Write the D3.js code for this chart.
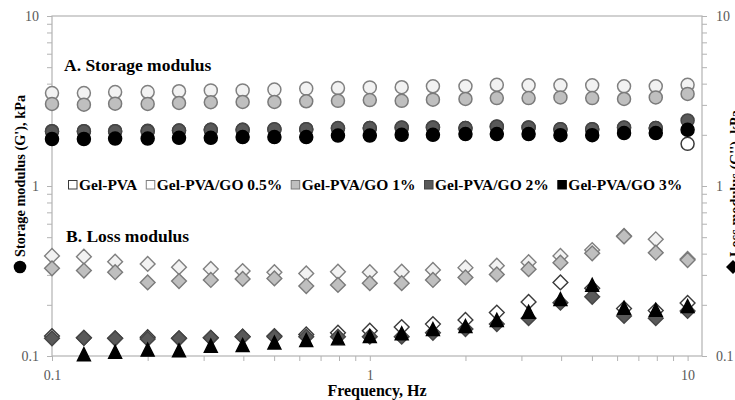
<!DOCTYPE html>
<html>
<head>
<meta charset="utf-8">
<script src="https://cdn.jsdelivr.net/npm/d3@7"></script>
<style>
  html, body { margin: 0; padding: 0; background: #fff; }
  svg { display: block; }
</style>
</head>
<body>
<svg id="chart" width="735" height="400"></svg>
<script>
// Oscillation frequency sweep, Hz
const frequency = [0.1, 0.126, 0.158, 0.2, 0.251, 0.316, 0.398, 0.501, 0.631, 0.794,
                   1, 1.26, 1.58, 2, 2.51, 3.16, 3.98, 5.01, 6.31, 7.94, 10];

const seriesNames = ["Gel-PVA", "Gel-PVA/GO 0.5%", "Gel-PVA/GO 1%", "Gel-PVA/GO 2%", "Gel-PVA/GO 3%"];

// Storage modulus G', kPa
const storagePVA   = [2.10, 2.10, 2.10, 2.11, 2.12, 2.14, 2.14, 2.15, 2.16, 2.18, 2.19,
                      2.20, 2.21, 2.19, 2.23, 2.21, 2.16, 2.16, 2.20, 2.19, 1.77];
const storageGO05  = [3.52, 3.52, 3.57, 3.57, 3.61, 3.65, 3.65, 3.69, 3.74, 3.77, 3.80,
                      3.81, 3.86, 3.86, 3.94, 3.91, 3.91, 3.91, 3.86, 3.86, 3.94];
const storageGO1   = [3.04, 3.01, 3.05, 3.04, 3.08, 3.11, 3.12, 3.12, 3.15, 3.17, 3.20,
                      3.17, 3.22, 3.25, 3.29, 3.29, 3.32, 3.29, 3.25, 3.32, 3.48];
const storageGO2   = [2.10, 2.10, 2.10, 2.10, 2.12, 2.14, 2.14, 2.16, 2.16, 2.19, 2.19,
                      2.21, 2.21, 2.19, 2.24, 2.21, 2.16, 2.16, 2.21, 2.19, 2.43];
const storageGO3   = [1.89, 1.89, 1.90, 1.90, 1.92, 1.92, 1.94, 1.94, 1.94, 1.98, 1.98,
                      2.00, 2.00, 2.02, 2.02, 2.02, 1.99, 1.99, 2.05, 2.05, 2.14];

// Loss modulus G'', kPa (null = below the axis range)
const lossPVA  = [0.131, 0.128, 0.127, 0.129, 0.127, 0.128, 0.130, 0.131, 0.134, 0.137, 0.141,
                  0.148, 0.154, 0.163, 0.180, 0.208, 0.271, 0.250, 0.190, 0.185, 0.205];
const lossGO05 = [0.388, 0.384, 0.359, 0.348, 0.333, 0.325, 0.316, 0.311, 0.306, 0.313, 0.311,
                  0.313, 0.321, 0.331, 0.340, 0.356, 0.388, 0.420, 0.508, 0.486, 0.372];
const lossGO1  = [0.328, 0.318, 0.311, 0.271, 0.276, 0.280, 0.284, 0.286, 0.258, 0.262, 0.268,
                  0.268, 0.280, 0.290, 0.302, 0.324, 0.354, 0.402, 0.505, 0.405, 0.367];
const lossGO2  = [0.127, 0.128, 0.127, 0.126, 0.127, 0.128, 0.130, 0.130, 0.130, 0.130, 0.130,
                  0.130, 0.137, 0.144, 0.154, 0.167, 0.206, 0.223, 0.172, 0.167, 0.184];
const lossGO3  = [null, 0.1025, 0.106, 0.109, 0.108, 0.115, 0.116, 0.120, 0.124, 0.127, 0.131,
                  0.136, 0.144, 0.150, 0.163, 0.182, 0.216, 0.262, 0.192, 0.187, 0.197];

// Axis labelling
const decadeTicks  = [0.1, 1, 10];
const decadeLabels = ["0.1", "1", "10"];

const storageSeries = [storagePVA, storageGO05, storageGO1, storageGO2, storageGO3];
const lossSeries    = [lossPVA, lossGO05, lossGO1, lossGO2, lossGO3];

// Per-series marker styling
const fills   = ["#ffffff", "#f2f2f2", "#bfbfbf", "#595959", "#000000"];
const strokes = ["#3a3a3a", "#808080", "#7a7a7a", "#454545", "#000000"];

const serif = "'Liberation Serif', 'Times New Roman', serif";
const svg = d3.select("#chart");

const plot = { left: 52, right: 702, top: 16, bottom: 356 };
const x = d3.scaleLog().domain([0.1, 11.1]).range([plot.left, plot.right]);
const y = d3.scaleLog().domain([0.1, 10]).range([plot.bottom, plot.top]);

const labelFor = d => {
  const i = decadeTicks.findIndex(t => Math.abs(t - d) / t < 1e-6);
  return i >= 0 ? decadeLabels[i] : "";
};

const axisColor = "#b3b3b3";
function styleAxis(g) {
  g.select(".domain").remove();
  g.selectAll(".tick line").attr("stroke", axisColor);
  g.selectAll(".tick text")
    .attr("font-family", serif)
    .attr("font-size", "14px")
    .attr("fill", "#595959");
}

// Plot frame
svg.append("rect")
  .attr("x", plot.left).attr("y", plot.top)
  .attr("width", plot.right - plot.left).attr("height", plot.bottom - plot.top)
  .attr("fill", "none").attr("stroke", axisColor).attr("stroke-width", 1.2);

svg.append("g")
  .attr("transform", `translate(0,${plot.bottom})`)
  .call(d3.axisBottom(x).tickValues(x.ticks()).tickFormat(labelFor)
          .tickSize(5).tickSizeOuter(0).tickPadding(9))
  .call(styleAxis);

svg.append("g")
  .attr("transform", `translate(${plot.left},0)`)
  .call(d3.axisLeft(y).tickValues(y.ticks()).tickFormat(labelFor)
          .tickSize(5).tickSizeOuter(0).tickPadding(8))
  .call(styleAxis);

svg.append("g")
  .attr("transform", `translate(${plot.right},0)`)
  .call(d3.axisRight(y).tickValues(y.ticks()).tickFormat(labelFor)
          .tickSize(5).tickSizeOuter(0).tickPadding(9))
  .call(styleAxis);

// Marker shapes
const diamondPath  = r => `M0,${-r}L${r},0L0,${r}L${-r},0Z`;
const trianglePath = (w, h) => `M0,${-h / 2}L${w / 2},${h / 2}L${-w / 2},${h / 2}Z`;

const pointsOf = vals => frequency.map((f, i) => ({ f, v: vals[i] })).filter(p => p.v != null);

// Storage modulus: circles
storageSeries.forEach((vals, s) => {
  svg.append("g").selectAll("circle")
    .data(pointsOf(vals))
    .join("circle")
    .attr("cx", d => x(d.f))
    .attr("cy", d => y(d.v))
    .attr("r", 6.5)
    .attr("fill", fills[s])
    .attr("stroke", strokes[s])
    .attr("stroke-width", 1.5);
});

// Loss modulus: diamonds, triangles for the 3% GO gel
lossSeries.forEach((vals, s) => {
  svg.append("g").selectAll("path")
    .data(pointsOf(vals))
    .join("path")
    .attr("transform", d => `translate(${x(d.f)},${y(d.v)})`)
    .attr("d", s === 4 ? trianglePath(13, 13) : diamondPath(7.4))
    .attr("fill", fills[s])
    .attr("stroke", strokes[s])
    .attr("stroke-width", 1.4);
});

// Panel annotations
svg.append("text")
  .attr("x", 64).attr("y", 71)
  .attr("font-family", serif).attr("font-weight", "bold").attr("font-size", "17.5px")
  .text("A. Storage modulus");
svg.append("text")
  .attr("x", 66).attr("y", 242)
  .attr("font-family", serif).attr("font-weight", "bold").attr("font-size", "17.5px")
  .text("B. Loss modulus");

// Legend
const legend = svg.append("g").attr("transform", "translate(68,190)");
let lx = 0;
seriesNames.forEach((name, s) => {
  legend.append("rect")
    .attr("x", lx + 0.5).attr("y", -9.5)
    .attr("width", 8.5).attr("height", 8.5)
    .attr("fill", s === 1 ? "#ffffff" : fills[s])
    .attr("stroke", strokes[s]).attr("stroke-width", 1);
  const t = legend.append("text")
    .attr("x", lx + 11).attr("y", 0)
    .attr("font-family", serif).attr("font-weight", "bold").attr("font-size", "15.5px")
    .text(name);
  lx += 11 + t.node().getComputedTextLength() + 8.5;
});

// X axis title
svg.append("text")
  .attr("x", (plot.left + plot.right) / 2).attr("y", 396)
  .attr("text-anchor", "middle")
  .attr("font-family", serif).attr("font-weight", "bold").attr("font-size", "16px")
  .text("Frequency, Hz");

// Left axis title with circle key
svg.append("circle").attr("cx", 20).attr("cy", 267).attr("r", 6.3).attr("fill", "#000");
svg.append("text")
  .attr("transform", "translate(20,257) rotate(-90)")
  .attr("dy", "0.35em")
  .attr("font-family", serif).attr("font-weight", "bold").attr("font-size", "14.3px")
  .text("Storage modulus (G'), kPa");

// Right axis title with diamond key
svg.append("path")
  .attr("transform", "translate(733,267)")
  .attr("d", diamondPath(7))
  .attr("fill", "#000");
svg.append("text")
  .attr("transform", "translate(735,257) rotate(-90)")
  .attr("dy", "0.35em")
  .attr("font-family", serif).attr("font-weight", "bold").attr("font-size", "14.3px")
  .text("Loss modulus (G''), kPa");
</script>
</body>
</html>
